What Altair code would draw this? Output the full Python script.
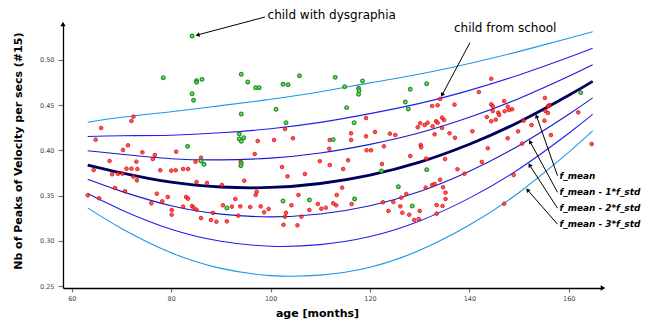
import math
import altair as alt
import pandas as pd

# ---------------- data ----------------
ages = [63.2, 70, 80, 90, 100, 110, 120, 130, 140, 150, 160, 164.8]
f_mean = [0.3838, 0.3752, 0.3648, 0.3595, 0.3590, 0.3634, 0.3727, 0.3870, 0.4068, 0.4315, 0.4610, 0.4764]
f_std = [0.0158, 0.0205, 0.0260, 0.0300, 0.0325, 0.0338, 0.0340, 0.0325, 0.0298, 0.0260, 0.0210, 0.0183]
k_levels = [3, 2, 1, -1, -2, -3]

red_age = [72.4, 72.0, 65.9, 64.8, 71.3, 97.4,
           119.2, 102.9, 116.2, 121.0, 119.2, 124.0, 125.1, 100.7, 104.5, 111.9, 116.2, 122.8,
           130.1, 129.6, 131.0, 131.6, 132.6, 132.5, 130.2, 130.3,
           144.4, 141.9, 134.1, 133.6, 137.0, 147.0, 144.4, 144.7, 147.7, 148.6, 148.0, 147.1,
           144.7, 145.8, 146.0, 143.5, 145.3, 144.4, 155.2, 156.1, 155.8, 155.3, 155.8, 161.9,
           155.1, 150.9, 152.5, 156.4, 149.8, 147.7, 150.6, 140.6, 136.0, 137.1, 134.5, 134.9,
           133.3, 133.6, 134.5, 133.0, 164.6,
           70.3, 74.2, 76.7, 81.0, 67.6, 73.0, 76.3, 86.0, 84.9, 94.0, 96.8, 64.4, 71.0, 72.0,
           73.2, 68.1, 69.3, 70.2, 72.4, 73.1, 77.8, 80.0, 80.9, 82.4, 83.4, 85.1, 87.2, 90.2,
           94.7, 97.2, 97.0, 68.7, 70.7, 63.2, 65.5, 77.1, 79.3, 76.0, 78.2, 83.0, 83.4, 80.1,
           80.1, 82.4, 84.2, 84.5, 85.1, 86.0, 88.0, 89.1, 91.2, 88.4, 90.4, 92.2, 92.9, 93.9,
           93.5, 95.9,
           111.8, 119.3, 120.2, 128.1, 131.3, 109.9, 115.6, 111.9, 114.6, 122.4, 102.3, 103.4,
           106.9, 114.4, 105.6, 113.3, 98.0, 99.6, 98.7, 104.2, 103.1, 102.9, 106.2, 102.6,
           105.4, 109.5, 111.1, 110.2, 107.8, 112.6, 113.2, 116.3, 122.6, 124.7, 126.3, 127.3,
           126.1, 123.7, 126.5, 127.9, 130.0, 128.9, 129.8, 131.2, 132.5,
           143.7, 135.1, 142.5, 137.6, 139.0, 134.1, 133.0, 134.7, 135.2, 135.2, 133.4, 134.6,
           133.4, 148.9, 147.0]
red_val = [0.4373, 0.4325, 0.4248, 0.4119, 0.4056, 0.4104,
           0.4358, 0.4237, 0.4189, 0.4204, 0.4156, 0.4185, 0.4170, 0.4115, 0.4134, 0.4115, 0.4115, 0.4045,
           0.4300, 0.4256, 0.4281, 0.4306, 0.4267, 0.4491, 0.4060, 0.4035,
           0.4793, 0.4646, 0.4569, 0.4499, 0.4506, 0.4546, 0.4510, 0.4488, 0.4484, 0.4455, 0.4447, 0.4433,
           0.4436, 0.4417, 0.4392, 0.4369, 0.4340, 0.4322, 0.4580, 0.4502, 0.4488, 0.4436, 0.4414, 0.4421,
           0.4329, 0.4329, 0.4281, 0.4170, 0.4211, 0.4134, 0.4074, 0.4211, 0.4189, 0.4140, 0.4362, 0.4336,
           0.4322, 0.4306, 0.4248, 0.4178, 0.4071,
           0.4004, 0.3979, 0.3949, 0.3986, 0.3883, 0.3875, 0.3905, 0.3919, 0.3875, 0.3875, 0.3960, 0.3783, 0.3798, 0.3798,
           0.3794, 0.3736, 0.3742, 0.3742, 0.3709, 0.3669, 0.3780, 0.3776, 0.3780, 0.3794, 0.3794, 0.3650, 0.3639, 0.3617,
           0.3665, 0.3543, 0.3507, 0.3584, 0.3548, 0.3503, 0.3470, 0.3521, 0.3485, 0.3415, 0.3437, 0.3485, 0.3466, 0.3341,
           0.3289, 0.3378, 0.3385, 0.3366, 0.3344, 0.3252, 0.3230, 0.3211, 0.3215, 0.3308, 0.3393, 0.3378, 0.3462, 0.3381,
           0.3278, 0.3374,
           0.4019, 0.4001, 0.4001, 0.3938, 0.3909, 0.3880, 0.3891, 0.3838, 0.3794, 0.3850, 0.3816, 0.3713,
           0.3739, 0.3588, 0.3507, 0.3507, 0.3381, 0.3352, 0.3315, 0.3393, 0.3311, 0.3267, 0.3267, 0.3178,
           0.3171, 0.3407, 0.3366, 0.3355, 0.3341, 0.3415, 0.3393, 0.3407, 0.3426, 0.3429, 0.3477, 0.3518,
           0.3381, 0.3330, 0.3311, 0.3289, 0.3330, 0.3230, 0.3241, 0.3588, 0.3617,
           0.4023, 0.3905, 0.3872, 0.3791, 0.3742, 0.3676, 0.3628, 0.3592, 0.3533, 0.3462, 0.3396, 0.3385,
           0.3300, 0.3728, 0.3410]

green_age = [84.2, 78.4, 85.1, 85.1, 86.2, 84.2, 84.5, 94.1, 95.4, 97.0, 97.7, 94.1, 93.7, 93.7,
             94.6, 94.1, 83.3, 102.5, 103.5, 105.8, 113.0, 118.5, 114.9, 117.7, 117.8, 117.7,
             128.1, 131.4, 101.1, 115.3, 127.1, 127.7, 103.1, 116.8, 112.6, 162.4,
             86.0, 86.6, 94.1, 94.0, 91.2, 122.3, 131.4, 102.5, 107.8, 116.9, 125.7, 128.5]
green_val = [0.5265, 0.4804, 0.4771, 0.4753, 0.4786, 0.4627, 0.4554, 0.4842, 0.4757, 0.4694, 0.4694, 0.4403, 0.4181, 0.4126,
             0.4140, 0.4101, 0.4045, 0.4731, 0.4727, 0.4826, 0.4808, 0.4768, 0.4705, 0.4687, 0.4661, 0.4621,
             0.4676, 0.4738, 0.4455, 0.4473, 0.4535, 0.4458, 0.4306, 0.4306, 0.4119, 0.4639,
             0.3883, 0.3846, 0.3857, 0.3831, 0.3363, 0.3772, 0.3787, 0.3440, 0.3451, 0.3462, 0.3599, 0.3385]

# annotations (text position, arrow tail, arrow head) in data units
note_text = ["child with dysgraphia", "child from school"]
note_age = [112.3, 147.2]
note_val = [0.5498, 0.5350]
note_tail_age = [98.9, 140.1]
note_tail_val = [0.5476, 0.5191]
note_head_age = [85.3, 134.5]
note_head_val = [0.5277, 0.4613]

lab_text = ["f_mean", "f_mean - 1*f_std", "f_mean - 2*f_std", "f_mean - 3*f_std"]
lab_age = [158.13, 158.13, 158.13, 158.13]
lab_val = [0.3720, 0.3537, 0.3360, 0.3183]
lab_tail_age = [157.73, 157.73, 157.73, 157.73]
lab_head_age = [153.5, 152.2, 152.1, 151.7]
lab_head_val = [0.4380, 0.4096, 0.3838, 0.3562]

x_ticks = [60, 80, 100, 120, 140, 160]
y_ticks = [0.25, 0.30, 0.35, 0.40, 0.45, 0.50]

# ---------------- layout ----------------
W, H = 539, 263
x_dom = [58.229, 58.229 + 539 / 4.97]
y_dom = [0.2478, 0.5387]
sx = W / (x_dom[1] - x_dom[0])
sy = H / (y_dom[1] - y_dom[0])
FONT = "DejaVu Sans"

xs = alt.Scale(domain=x_dom, nice=False, zero=False)
ys = alt.Scale(domain=y_dom, nice=False, zero=False)

rows = []
for k in k_levels:
    for a, m, s in zip(ages, f_mean, f_std):
        rows.append({"age": a, "val": m + k * s, "k": str(k)})
curves = pd.DataFrame(rows)
mean_df = pd.DataFrame({"age": ages, "val": f_mean})

k_dom = [str(k) for k in k_levels]
k_col = ["#1e96e6", "#2020f0", "#1818d0", "#1818d0", "#2020f0", "#1e96e6"]

xaxis = alt.Axis(values=x_ticks, grid=False, title="age [months]", titleFont=FONT,
                 titleFontSize=11, titleFontWeight="bold", titleColor="black",
                 titleX=254, titleY=28, titleAlign="center", titleBaseline="alphabetic",
                 labelFont=FONT, labelFontSize=6.5, labelColor="#444", labelPadding=3,
                 tickSize=4, tickColor="#777", tickWidth=1.2,
                 domainColor="black", domainWidth=1.3)
yaxis = alt.Axis(values=y_ticks, format=".2f", grid=False,
                 title="Nb of Peaks of Velocity per secs (#15)", titleFont=FONT,
                 titleFontSize=11, titleFontWeight="bold", titleColor="black",
                 titleX=-44.7, titleY=125.7, titleAngle=270, titleAlign="center",
                 titleBaseline="middle",
                 labelFont=FONT, labelFontSize=6.5, labelColor="#444", labelPadding=4,
                 tickSize=5, tickColor="#777", tickWidth=1.2,
                 domainColor="black", domainWidth=1.3)

lines = alt.Chart(curves).mark_line(interpolate="natural", strokeWidth=1.1).encode(
    x=alt.X("age:Q", scale=xs, axis=xaxis),
    y=alt.Y("val:Q", scale=ys, axis=yaxis),
    color=alt.Color("k:N", scale=alt.Scale(domain=k_dom, range=k_col), legend=None),
    detail="k:N",
)
mean_line = alt.Chart(mean_df).mark_line(interpolate="natural", strokeWidth=2.8,
                                         color="#00005e").encode(
    x=alt.X("age:Q", scale=xs), y=alt.Y("val:Q", scale=ys))

red_df = pd.DataFrame({"age": red_age, "val": red_val})
green_df = pd.DataFrame({"age": green_age, "val": green_val})

reds = alt.Chart(red_df).mark_point(shape="circle", filled=True, fill="#ff3a3a",
                                    stroke="#e00000", strokeWidth=1, size=13,
                                    opacity=0.85).encode(
    x=alt.X("age:Q", scale=xs), y=alt.Y("val:Q", scale=ys))
greens = alt.Chart(green_df).mark_point(shape="circle", filled=True, fill="#7fd97f",
                                        stroke="#149414", strokeWidth=1.3, size=13,
                                        opacity=0.95).encode(
    x=alt.X("age:Q", scale=xs), y=alt.Y("val:Q", scale=ys))


def angle(ta, tv, ha, hv):
    dx = (ha - ta) * sx
    dy = -(hv - tv) * sy
    return math.degrees(math.atan2(dx, -dy)) % 360


arrows = pd.DataFrame({
    "ta": note_tail_age + lab_tail_age,
    "tv": note_tail_val + lab_val,
    "ha": note_head_age + lab_head_age,
    "hv": note_head_val + lab_head_val,
})
arrows["ang"] = [angle(r.ta, r.tv, r.ha, r.hv) for r in arrows.itertuples()]

shafts = alt.Chart(arrows).mark_rule(color="black", strokeWidth=1).encode(
    x=alt.X("ta:Q", scale=xs), y=alt.Y("tv:Q", scale=ys),
    x2="ha:Q", y2="hv:Q")
heads = alt.Chart(arrows).mark_point(shape="triangle-up", filled=True, color="black",
                                     opacity=1, size=22).encode(
    x=alt.X("ha:Q", scale=xs), y=alt.Y("hv:Q", scale=ys),
    angle=alt.Angle("ang:Q", scale=None))

notes = alt.Chart(pd.DataFrame({"t": note_text, "age": note_age, "val": note_val})).mark_text(
    font=FONT, fontSize=12, color="black", align="center", baseline="middle").encode(
    x=alt.X("age:Q", scale=xs), y=alt.Y("val:Q", scale=ys), text="t:N")

labels = alt.Chart(pd.DataFrame({"t": lab_text, "age": lab_age, "val": lab_val})).mark_text(
    font=FONT, fontSize=8.9, fontWeight="bold", fontStyle="italic", color="black",
    align="left", baseline="middle").encode(
    x=alt.X("age:Q", scale=xs), y=alt.Y("val:Q", scale=ys), text="t:N")

one = pd.DataFrame({"a": [0]})
yarrow = alt.Chart(one).mark_point(shape="triangle-up", filled=True, color="black",
                                   opacity=1, size=28).encode(
    x=alt.value(0), y=alt.value(-1))
xarrow = alt.Chart(one).mark_point(shape="triangle-right", filled=True, color="black",
                                   opacity=1, size=28).encode(
    x=alt.value(W + 1), y=alt.value(H))

chart = alt.layer(lines, mean_line, reds, greens, shafts, heads, notes, labels,
                  yarrow, xarrow).properties(
    width=W, height=H,
    autosize=alt.AutoSizeParams(type="none"),
    padding={"left": 55, "top": 17, "right": 45, "bottom": 31},
    background="white",
).configure_view(stroke=None)

chart.save("out.html", embed_options={"renderer": "svg", "actions": False})
